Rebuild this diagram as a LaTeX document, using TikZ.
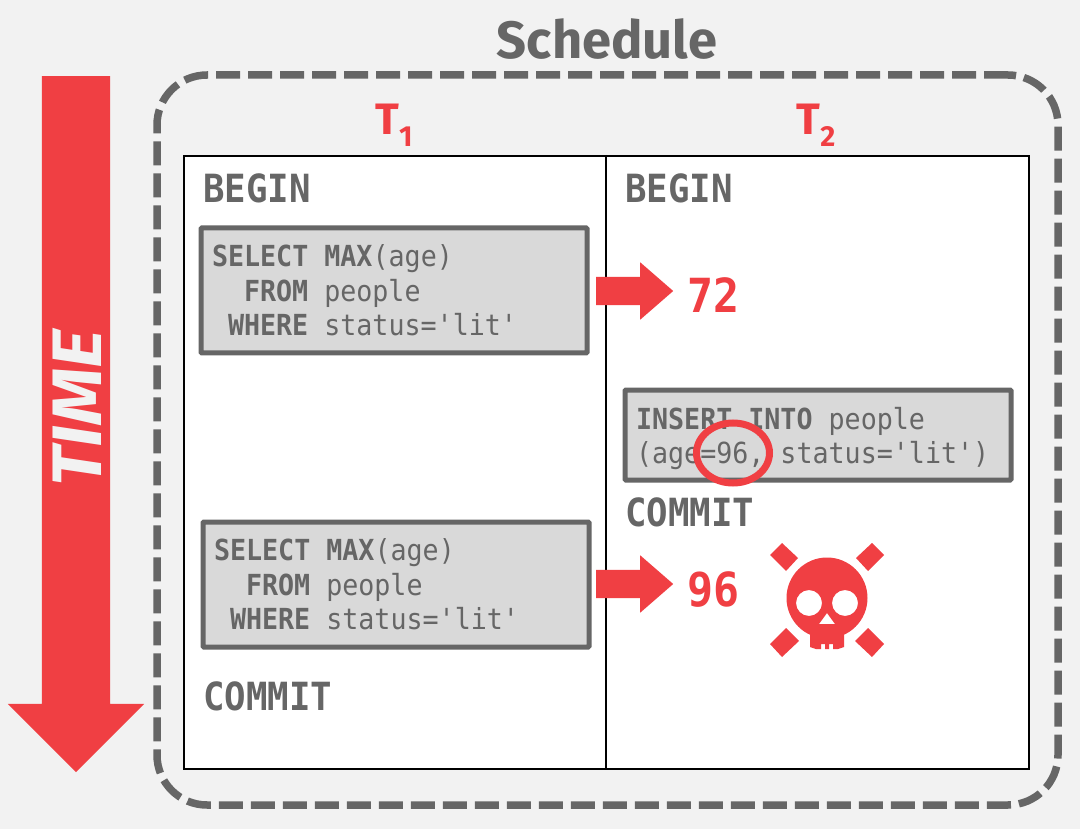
\documentclass[tikz,border=0pt]{standalone}
\usepackage{fontspec}
\usepackage{tikz}
\setmainfont{Fira Sans}
\newfontfamily\codigo[FakeStretch=0.92]{DejaVu Sans Mono}
\newfontfamily\ancha[FakeStretch=1.06]{Fira Sans}
\newcommand{\clave}[1]{\textbf{#1}}
\newcommand{\hueco}{\hspace*{16pt}}
\usetikzlibrary{shapes.geometric, shapes.arrows}
\definecolor{rojo}{HTML}{F03F43}
\definecolor{gris}{HTML}{666666}
\definecolor{fondo}{HTML}{F2F2F2}
\definecolor{relleno}{HTML}{D9D9D9}
\tikzstyle{marco} = [rectangle,
                     draw=gris,
                     line width=7.5pt,
                     dash pattern=on 24pt off 8pt,
                     rounded corners=50pt,
                     minimum width=901pt,
                     minimum height=730pt]
\tikzstyle{tabla} = [rectangle,
                     draw=black,
                     fill=white,
                     line width=2pt,
                     minimum width=845pt,
                     minimum height=613pt]
\tikzstyle{consulta} = [rectangle,
                        draw=gris,
                        fill=relleno,
                        line width=5pt,
                        rounded corners=1pt,
                        anchor=north west,
                        minimum width=386pt,
                        inner sep=0pt,
                        inner xsep=11pt,
                        text width=364pt,
                        align=left,
                        text=gris,
                        font=\codigo\fontsize{29}{34.3}\selectfont]
\tikzstyle{palabra} = [anchor=base west,
                       inner sep=0pt,
                       text=gris,
                       font=\codigo\bfseries\fontsize{38.8}{39}\selectfont]
\tikzstyle{valor} = [anchor=base west,
                     inner sep=0pt,
                     text=rojo,
                     font=\codigo\bfseries\fontsize{47}{47}\selectfont]
\tikzstyle{flecha} = [single arrow,
                      fill=rojo,
                      inner sep=14pt,
                      minimum height=77pt,
                      single arrow head extend=14.5pt,
                      single arrow tip angle=82,
                      anchor=west]
\tikzstyle{columna} = [anchor=base,
                       inner sep=0pt,
                       text=rojo,
                       font=\bfseries\fontsize{44}{44}\selectfont]

\begin{document}
\begin{tikzpicture}[x=1pt,y=-1pt]
    \useasboundingbox (0,0) rectangle (1080,829);
    \fill [fondo] (0,0) rectangle (1080,829);

    \node (Titulo) at (607,39) [inner sep=0pt,text=gris,font=\bfseries\fontsize{52.5}{52.5}\selectfont] {Schedule};
    \node (Tiempo) at (76,407) [single arrow,fill=rojo,inner sep=34pt,rotate=-90,
        minimum height=696pt,
        single arrow head extend=34pt] {};
    \node (TextoTiempo) at (77,408) [rotate=90,inner sep=0pt,text=fondo,
        font=\ancha\bfseries\itshape\fontsize{70}{70}\selectfont] {TIME};

    \node (Marco) at (607.5,440) [marco] {};
    \node (Tabla) at (606.5,462.5) [tabla] {};
    \draw [black,line width=2pt] ([xshift=-0.5pt]Tabla.north) -- ([xshift=-0.5pt]Tabla.south);

    \node (T1) at (394,135) [columna] {T\raisebox{-12pt}{\fontsize{29}{29}\selectfont 1}};
    \node (T2) at (816,135) [columna] {T\raisebox{-12pt}{\fontsize{29}{29}\selectfont 2}};

    \node (Begin1) at (203,202.5) [palabra] {BEGIN};
    \node (Begin2) at (625,202.5) [palabra] {BEGIN};
    \node (Commit2) at (625,526) [palabra] {COMMIT};
    \node (Commit1) at (203,710) [palabra] {COMMIT};

    \node (Consulta1) at (198.5,225.5) [consulta,minimum height=125pt] {\clave{SELECT}\hueco\clave{MAX}(age)\\
        \hueco\hueco\clave{FROM}\hueco people\\
        \hueco\clave{WHERE}\hueco status='lit'};
    \node (Consulta2) at (200.5,519.5) [consulta,minimum height=125pt] {\clave{SELECT}\hueco\clave{MAX}(age)\\
        \hueco\hueco\clave{FROM}\hueco people\\
        \hueco\clave{WHERE}\hueco status='lit'};
    \node (Insercion) at (622.5,387.5) [consulta,minimum height=90pt] {\rule{0pt}{29pt}\clave{INSERT}\hueco\clave{INTO}\hueco people\\
        (age=96,\hueco status='lit')};

    \node (Flecha1) at (596,291) [flecha] {};
    \node (Flecha2) at (596,584) [flecha] {};
    \node (Valor1) at (687,313) [valor] {72};
    \node (Valor2) at (687,606) [valor] {96};

    \node (Circulo) at (733,453) [ellipse,draw=rojo,line width=7pt,inner sep=0pt,
        minimum width=73pt,minimum height=60pt] {};

    \fill [rojo,even odd rule]
        (827,598) circle [radius=40.5pt]
        (809,603) circle [radius=13pt]
        (845,603) circle [radius=13pt]
        (827,613) -- (819,624) -- (835,624) -- cycle;
    \fill [rojo] (810,625) -- (844,625) -- (844,647) -- (838,649) -- (833,649) -- (833,644)
        -- (829,644) -- (829,649) -- (825,649) -- (825,644) -- (821,644) -- (821,649)
        -- (816,649) -- (810,647) -- cycle;
    \fill [rojo] (770,555) -- (782,543) -- (798,558) -- (786,571) -- cycle;
    \fill [rojo] (884,555) -- (872,543) -- (856,558) -- (868,571) -- cycle;
    \fill [rojo] (770,644) -- (782,657) -- (799,641) -- (786,628) -- cycle;
    \fill [rojo] (884,644) -- (872,657) -- (855,641) -- (868,628) -- cycle;
\end{tikzpicture}
\end{document}
